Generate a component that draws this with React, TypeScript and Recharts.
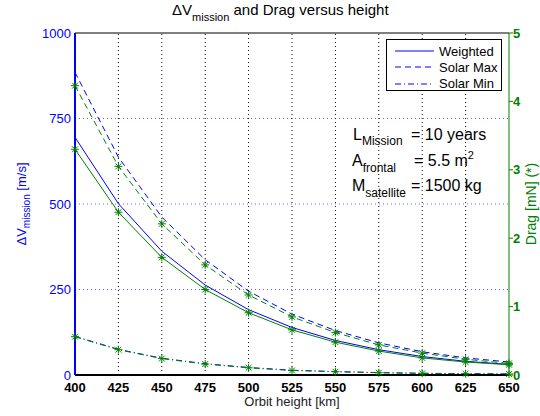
import { LineChart, Line, XAxis, YAxis, ReferenceLine, Legend, Label } from "recharts"

const heights = [400, 425, 450, 475, 500, 525, 550, 575, 600, 625, 650]

// delta-V over the mission [m/s]
const dvWeighted = [695, 501, 362, 263, 191, 139, 101, 74, 54, 40, 31]
const dvSolarMax = [885, 637, 462, 337, 245, 178, 130, 94, 68, 50, 38]
const dvSolarMin = [113, 75, 49, 33, 22, 14, 10, 7, 5, 4, 3]

// drag [mN]
const dragWeighted = [3.3, 2.38, 1.72, 1.25, 0.91, 0.66, 0.48, 0.35, 0.25, 0.19, 0.15]
const dragSolarMax = [4.23, 3.05, 2.21, 1.61, 1.17, 0.85, 0.62, 0.44, 0.32, 0.23, 0.17]
const dragSolarMin = [0.56, 0.37, 0.24, 0.16, 0.105, 0.066, 0.048, 0.033, 0.024, 0.018, 0.014]

const dvTicks = [0, 250, 500, 750, 1000]
const dragTicks = [0, 1, 2, 3, 4, 5]
const legendNames = ["Weighted", "Solar Max", "Solar Min"]

const BLUE = "#0000ff"
const GREEN = "#008000"
const FONT = "'Liberation Sans', Arial, sans-serif"
const dashes = ["", "6 4", "6 3 1 3"]

const data = heights.map((h, i) => ({
	height: h,
	dvW: dvWeighted[i],
	dvMax: dvSolarMax[i],
	dvMin: dvSolarMin[i],
	dragW: dragWeighted[i],
	dragMax: dragSolarMax[i],
	dragMin: dragSolarMin[i],
}))

// matlab style '*' marker
function Star(props: any) {
	const { cx, cy } = props
	if (cx == null || cy == null) return null
	const r = 4
	const d = 2.9
	return (
		<g stroke={GREEN} strokeWidth={1}>
			<line x1={cx - r} y1={cy} x2={cx + r} y2={cy} />
			<line x1={cx} y1={cy - r} x2={cx} y2={cy + r} />
			<line x1={cx - d} y1={cy - d} x2={cx + d} y2={cy + d} />
			<line x1={cx - d} y1={cy + d} x2={cx + d} y2={cy - d} />
		</g>
	)
}

function LegendBox() {
	return (
		<div
			style={{
				width: 116,
				height: 52,
				border: "1px solid #000",
				background: "#fff",
				fontFamily: FONT,
				fontSize: 13,
				color: "#000",
				boxSizing: "border-box",
				paddingTop: 3,
			}}
		>
			{legendNames.map((name, i) => (
				<div key={name} style={{ display: "flex", alignItems: "center", height: 16.3 }}>
					<svg width={52} height={10}>
						<line x1={8} y1={5} x2={47} y2={5} stroke={BLUE} strokeDasharray={dashes[i]} />
					</svg>
					<span>{name}</span>
				</div>
			))}
		</div>
	)
}

function App() {
	return (
		<div style={{ position: "absolute", left: 0, top: 0, width: 540, height: 416, background: "#fff" }}>
			<LineChart
				width={540}
				height={416}
				data={data}
				margin={{ top: 33, right: 0, bottom: 0, left: 0 }}
			>
				<XAxis
					dataKey="height"
					type="number"
					domain={[400, 650]}
					ticks={heights}
					height={41}
					stroke="#000"
					strokeWidth={2}
					tickLine={false}
					tickSize={8}
					tickMargin={0}
					tick={{ fill: "#000", fontSize: 13, fontWeight: "bold", fontFamily: FONT }}
				>
					<Label
						content={({ viewBox }: any) => (
							<text
								x={viewBox.x + viewBox.width / 2}
								y={viewBox.y + 31}
								textAnchor="middle"
								fontSize={13}
								fontFamily={FONT}
								fill="#222"
							>
								Orbit height [km]
							</text>
						)}
					/>
				</XAxis>
				<YAxis
					yAxisId="left"
					domain={[0, 1000]}
					ticks={dvTicks}
					width={75}
					stroke={BLUE}
					strokeWidth={2}
					tickLine={false}
					tickSize={4}
					tickMargin={0}
					tick={{ fill: BLUE, fontSize: 13, fontFamily: FONT }}
				>
					<Label
						content={({ viewBox }: any) => {
							const x = 26
							const y = viewBox.y + viewBox.height / 2
							return (
								<text
									x={x}
									y={y}
									transform={`rotate(-90, ${x}, ${y})`}
									textAnchor="middle"
									fontSize={13}
									fontFamily={FONT}
									fill={BLUE}
								>
									ΔV
									<tspan fontSize={10} dy={4}>
										mission
									</tspan>
									<tspan dy={-4}> [m/s]</tspan>
								</text>
							)
						}}
					/>
				</YAxis>
				<YAxis
					yAxisId="right"
					orientation="right"
					domain={[0, 5]}
					ticks={dragTicks}
					width={31}
					stroke={GREEN}
					tickSize={4}
					tickMargin={0}
					tick={{ fill: GREEN, fontSize: 13, fontWeight: "bold", fontFamily: FONT }}
				>
					<Label
						content={({ viewBox }: any) => {
							const x = 536
							const y = viewBox.y + viewBox.height / 2
							return (
								<text
									x={x}
									y={y}
									transform={`rotate(-90, ${x}, ${y})`}
									textAnchor="middle"
									fontSize={14}
									fontFamily={FONT}
									fill={GREEN}
								>
									Drag [mN] (*)
								</text>
							)
						}}
					/>
				</YAxis>

				{heights.slice(1, -1).map((h) => (
					<ReferenceLine
						key={`vx-${h}`}
						x={h}
						yAxisId="left"
						stroke="#000"
						strokeDasharray="1 3"
					/>
				))}
				{dvTicks.slice(1, -1).map((v) => (
					<ReferenceLine
						key={`hy-${v}`}
						y={v}
						yAxisId="left"
						stroke={BLUE}
						strokeOpacity={0.6}
						strokeDasharray="1 3"
					/>
				))}
				<ReferenceLine y={1000} yAxisId="left" stroke="#000" />

				<Line yAxisId="left" dataKey="dvW" stroke={BLUE} strokeWidth={1} dot={false} isAnimationActive={false} />
				<Line yAxisId="left" dataKey="dvMax" stroke={BLUE} strokeWidth={1} strokeDasharray={dashes[1]} dot={false} isAnimationActive={false} />
				<Line yAxisId="left" dataKey="dvMin" stroke={BLUE} strokeWidth={1} strokeDasharray={dashes[2]} dot={false} isAnimationActive={false} />

				<Line yAxisId="right" dataKey="dragW" stroke={GREEN} strokeWidth={1} dot={<Star />} isAnimationActive={false} />
				<Line yAxisId="right" dataKey="dragMax" stroke={GREEN} strokeWidth={1} strokeDasharray={dashes[1]} dot={<Star />} isAnimationActive={false} />
				<Line yAxisId="right" dataKey="dragMin" stroke={GREEN} strokeWidth={1} strokeDasharray={dashes[2]} dot={<Star />} isAnimationActive={false} />

				<Legend
					layout="horizontal"
					verticalAlign="middle"
					align="center"
					content={<LegendBox />}
					wrapperStyle={{ left: 386, top: 39, width: 118, height: 54 }}
				/>
			</LineChart>

			{/* title and mission parameters */}
			<svg
				width={540}
				height={416}
				style={{ position: "absolute", left: 0, top: 0, pointerEvents: "none" }}
				fontFamily={FONT}
			>
				<text x={172} y={15} fontSize={15} fill="#000">
					ΔV
					<tspan fontSize={11} dy={6}>
						mission
					</tspan>
					<tspan dy={-6}> and Drag versus height</tspan>
				</text>
				<g fontSize={16} fill="#000">
					<text x={353} y={140}>
						L<tspan fontSize={12} dy={5}>Mission</tspan>
					</text>
					<text x={411} y={140}>= 10 years</text>
					<text x={352} y={166}>
						A<tspan fontSize={12} dy={6}>frontal</tspan>
					</text>
					<text x={414} y={166}>
						= 5.5 m<tspan fontSize={11} dy={-7}>2</tspan>
					</text>
					<text x={352} y={191}>
						M<tspan fontSize={12} dy={6}>satellite</tspan>
					</text>
					<text x={411} y={191}>= 1500 kg</text>
				</g>
			</svg>
		</div>
	)
}

export default App
